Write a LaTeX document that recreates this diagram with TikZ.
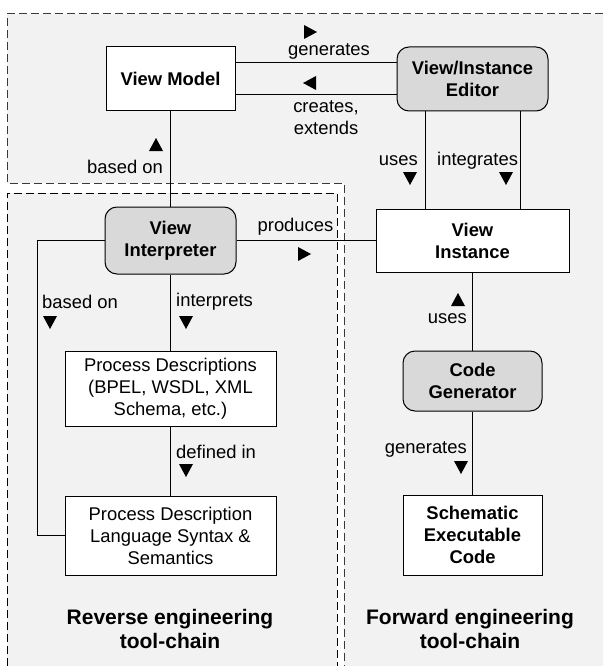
\documentclass[tikz,border=0pt]{standalone}
\usepackage{fontspec}
\setmainfont{Liberation Sans}
\definecolor{zonefill}{HTML}{F2F2F2}
\definecolor{toolgray}{HTML}{D9D9D9}
\definecolor{zoneline}{HTML}{3A3A3A}
\begin{document}
\begin{tikzpicture}[x=1pt,y=-1pt,
  every node/.style={font=\fontsize{18.4}{22}\selectfont, text=black},
  plainbox/.style={draw=black, line width=1pt, fill=white, inner sep=0pt, align=center},
  boldbox/.style={plainbox, font=\fontsize{18.4}{22}\selectfont\bfseries},
  toolbox/.style={draw=black, line width=1pt, fill=toolgray, rounded corners=12pt,
    inner sep=0pt, align=center, font=\fontsize{18.4}{22}\selectfont\bfseries},
  lbl/.style={inner sep=0pt, align=center},
  chain/.style={inner sep=0pt, align=center, font=\fontsize{21}{24}\selectfont\bfseries},
  link/.style={draw=black, line width=1pt},
  zoneF/.style={draw=zoneline, line width=1pt, dash pattern=on 8pt off 4pt},
  zoneR/.style={draw=black, line width=1pt, dash pattern=on 8pt off 4pt},
  triup/.pic={\fill[black] (-7,6) -- (7,6) -- (0,-7) -- cycle;},
  tridown/.pic={\fill[black] (-7,-6) -- (7,-6) -- (0,7) -- cycle;},
  triright/.pic={\fill[black] (-6,-7) -- (-6,7) -- (7,0) -- cycle;},
  trileft/.pic={\fill[black] (6,-7) -- (6,7) -- (-7,0) -- cycle;}
]
\useasboundingbox (0,0) rectangle (603,666);

% tool-chain zones
\fill[zonefill] (7,14) -- (603,14) -- (603,666) -- (344,666) -- (344,183) -- (7,183) -- cycle;
\fill[zonefill] (7,193) rectangle (337,666);
\draw[zoneF] (603,14) -- (7,14) -- (7,183) -- (344,183) -- (344,666);
\draw[zoneR] (7,666) -- (7,193) -- (337,193) -- (337,666);

% components
\node[boldbox, minimum width=129pt, minimum height=64pt] (vm) at (170.5,79) {View Model};
\node[toolbox, minimum width=151pt, minimum height=64pt] (ed) at (472.5,79) {View/Instance\\Editor};
\node[toolbox, minimum width=131pt, minimum height=67pt] (vi) at (170.5,240.5) {View\\Interpreter};
\node[boldbox, minimum width=193pt, minimum height=63pt] (inst) at (472.5,240.5) {View\\Instance};
\node[plainbox, minimum width=211pt, minimum height=75pt] (pd) at (170.5,388.5)
  {Process Descriptions\\(BPEL, WSDL, XML\\Schema, etc.)};
\node[plainbox, minimum width=211pt, minimum height=79pt] (pdl) at (170.5,535.5)
  {Process Description\\Language Syntax \&\\Semantics};
\node[toolbox, minimum width=139pt, minimum height=60pt] (cg) at (472.5,381) {Code\\Generator};
\node[boldbox, minimum width=139pt, minimum height=80pt] (sec) at (472.5,535) {Schematic\\Executable\\Code};

% connectors
\draw[link] ([yshift=16pt]vm.east) -- ([yshift=16pt]vm.east -| ed.west);
\draw[link] ([yshift=-16pt]vm.east) -- ([yshift=-16pt]vm.east -| ed.west);
\draw[link] (vm.south) -- (vi.north);
\draw[link] ([xshift=-47.5pt]ed.south) -- ([xshift=-47.5pt]ed.south |- inst.north);
\draw[link] ([xshift=47.5pt]ed.south) -- ([xshift=47.5pt]ed.south |- inst.north);
\draw[link] (vi.east) -- (vi.east -| inst.west);
\coordinate (bend) at (37,240.5);
\draw[link] (vi.west) -- (bend) |- (pdl.west);
\draw[link] (vi.south) -- (pd.north);
\draw[link] (pd.south) -- (pdl.north);
\draw[link] (inst.south) -- (cg.north);
\draw[link] (cg.south) -- (sec.north);

% connector labels
\node[lbl] (lgen) at (329,51) {generates};
\node[lbl] (lcre) at (326,117.5) {creates,\\extends};
\node[lbl] (lbase1) at (125,167) {based on};
\node[lbl, anchor=east] (luse1) at (418,161) {uses};
\node[lbl, anchor=west] (lint) at (437,161) {integrates};
\node[lbl] (lprod) at (295.5,227) {produces};
\node[lbl, anchor=west] (lbase2) at (42,302) {based on};
\node[lbl, anchor=west] (linterp) at (176,302) {interprets};
\node[lbl, anchor=west] (ldef) at (176,452) {defined in};
\node[lbl, anchor=east] (luse2) at (467,319) {uses};
\node[lbl, anchor=east] (lgen2) at (467,449) {generates};

% direction marks
\pic at (310,32) {triright};
\pic at (310,83) {trileft};
\pic at (156,145) {triup};
\pic at (410,178) {tridown};
\pic at (506,178) {tridown};
\pic at (304,254) {triright};
\pic at (50,322) {tridown};
\pic at (186,322) {tridown};
\pic at (186,470) {tridown};
\pic at (458,300) {triup};
\pic at (461,467) {tridown};

% zone titles
\node[chain] (trev) at (170,628.5) {Reverse engineering\\tool-chain};
\node[chain] (tfwd) at (470,628.5) {Forward engineering\\tool-chain};
\end{tikzpicture}
\end{document}
